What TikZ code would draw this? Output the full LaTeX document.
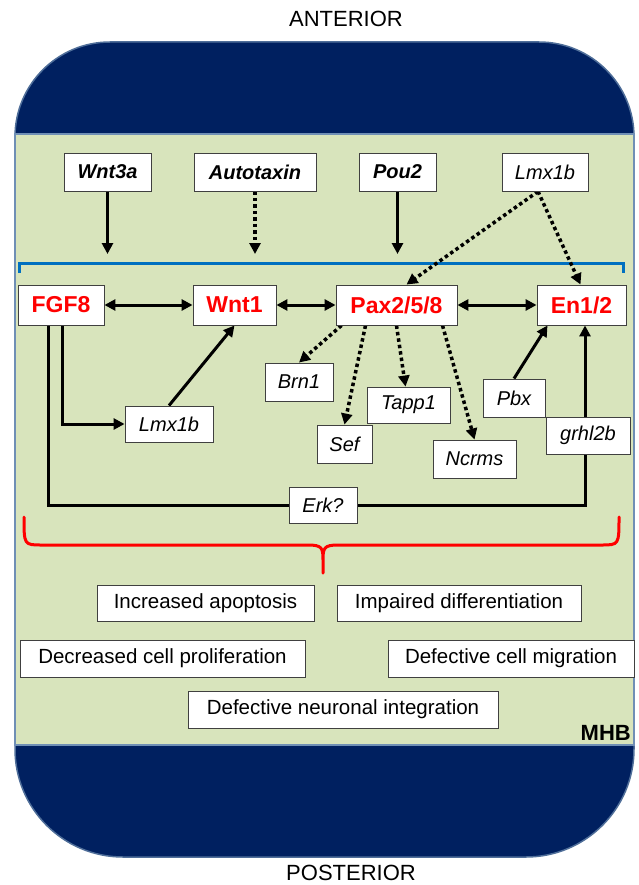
\documentclass[tikz,border=0pt]{standalone}
\usepackage{fontspec}
\setmainfont{Liberation Sans}
\usetikzlibrary{arrows.meta}
\definecolor{navy}{HTML}{002060}
\definecolor{navyedge}{HTML}{4F6E99}
\definecolor{mhbgreen}{HTML}{D8E4BC}
\definecolor{greenedge}{HTML}{6F8FB5}
\definecolor{boxedge}{HTML}{404040}
\definecolor{bracketblue}{HTML}{0070C0}
\definecolor{bracered}{HTML}{FF0000}
\pgfdeclarelayer{bg}
\pgfdeclarelayer{lines}
\pgfsetlayers{bg,lines,main}
\tikzset{
  base/.style={draw=boxedge, line width=0.9pt, fill=white, inner sep=0pt, align=center},
  topb/.style={base, font=\fontsize{20}{24}\selectfont\bfseries\itshape},
  itb/.style={base, font=\fontsize{20}{24}\selectfont\itshape},
  redb/.style={base, text=red, font=\fontsize{23}{27}\selectfont\bfseries},
  effb/.style={base, font=\fontsize{20.5}{24}\selectfont},
  tip/.style={-{Triangle[length=11pt,width=11pt]}},
  arr/.style={line width=3pt, tip},
  darr/.style={line width=3.5pt, dash pattern=on 3.5pt off 3pt, tip},
  dbl/.style={line width=3pt, {Triangle[length=11pt,width=11pt]}-{Triangle[length=11pt,width=11pt]}},
}
\newcommand\nd[7]{\node[#1, minimum width=#5pt, minimum height=#6pt] (#2) at (#3,#4) {#7};}
\begin{document}
\begin{tikzpicture}[x=1pt,y=-1pt]
\useasboundingbox (0,0) rectangle (638,885);
% background
\begin{pgfonlayer}{bg}
  \filldraw[fill=navy, draw=navyedge, line width=1.5pt, rounded corners=95pt] (15,42) rectangle (634,400);
  \filldraw[fill=navy, draw=navyedge, line width=1.5pt, rounded corners=108pt] (15,480) rectangle (634,857);
  \filldraw[fill=mhbgreen, draw=greenedge, line width=1.6pt] (15,134) rectangle (634,745);
\end{pgfonlayer}
\node[font=\fontsize{22}{26}\selectfont] (ant) at (346,19) {ANTERIOR};
\node[font=\fontsize{22}{26}\selectfont] (post) at (351,873) {POSTERIOR};
\node[font=\fontsize{22}{26}\selectfont\bfseries, anchor=base east, inner sep=0pt] (mhb) at (631,740) {MHB};
% top row
\nd{topb}{wnt3a}{107.5}{172}{87}{38}{Wnt3a}
\nd{topb}{atx}{255}{172}{122}{38}{Autotaxin}
\nd{topb}{pou2}{397.5}{172}{77}{38}{Pou2}
\nd{itb}{lmxt}{545}{172}{86}{38}{Lmx1b}
% main row
\nd{redb}{fgf8}{61}{305}{86}{40}{FGF8}
\nd{redb}{wnt1}{234.5}{305}{83}{40}{Wnt1}
\nd{redb}{pax}{396.5}{305}{121}{40}{Pax2/5/8}
\nd{redb}{en}{581.5}{305}{89}{40}{En1/2}
% lower nodes
\nd{itb}{brn1}{299}{382}{68}{38}{Brn1}
\nd{itb}{lmxm}{169}{424}{88}{36}{Lmx1b}
\nd{itb}{tapp1}{408.5}{405}{83}{36}{Tapp1}
\nd{itb}{sef}{344.5}{444}{55}{38}{Sef}
\nd{itb}{ncrms}{474.5}{459}{83}{38}{Ncrms}
\nd{itb}{pbx}{514}{398}{62}{38}{Pbx}
\nd{itb}{grhl}{588}{435.5}{84}{37}{grhl2b}
\nd{itb}{erk}{323}{505}{68}{36}{Erk?}
% effects
\nd{effb}{e1}{205.5}{603}{217}{36}{Increased apoptosis}
\nd{effb}{e2}{459}{603}{244}{36}{Impaired differentiation}
\nd{effb}{e3}{162.5}{658.5}{285}{37}{Decreased cell proliferation}
\nd{effb}{e4}{511}{658.5}{246}{37}{Defective cell migration}
\nd{effb}{e5}{343}{709.5}{310}{37}{Defective neuronal integration}
% coordinates
\coordinate (w3e) at (107.5,254);
\coordinate (atxe) at (255,254);
\coordinate (poue) at (397.5,254);
\coordinate (bl) at (48,505);
\coordinate (br) at (585,505);
\begin{pgfonlayer}{lines}
  % blue bracket
  \draw[bracketblue, line width=3pt] (19,273) -- (19,263) -- (623,263) -- (623,273);
  % red brace
  \draw[bracered, line width=3pt, line cap=round]
    (24,517) .. controls (24,545) and (24,545) .. (42,545) -- (308,545)
    .. controls (322,545) and (323,548) .. (323,560) -- (323,573)
    (323,560) .. controls (323,548) and (324,545) .. (338,545) -- (601,545)
    .. controls (619,545) and (619,545) .. (619,517);
  % inputs
  \draw[arr] (wnt3a.south) -- (w3e);
  \draw[darr] (atx.south) -- (atxe);
  \draw[arr] (pou2.south) -- (poue);
  \draw[darr] ([xshift=-7pt]lmxt.south) -- ([xshift=10pt]pax.north);
  \draw[darr] ([xshift=-7pt]lmxt.south) -- ([xshift=-1pt]en.north);
  % main row
  \draw[dbl] (fgf8.east) -- (wnt1.west);
  \draw[dbl] (wnt1.east) -- (pax.west);
  \draw[dbl] (pax.east) -- (en.west);
  % FGF8 branches
  \draw[arr] ([xshift=1pt]fgf8.south) |- (lmxm.west);
  \draw[arr, line join=miter] ([xshift=-13pt]fgf8.south) -- (bl) -- (br) -- (br |- en.south);
  \draw[arr] (lmxm.north) -- (wnt1.south);
  \draw[arr] (pbx.north) -- ([xshift=-34pt]en.south);
  % Pax targets
  \draw[darr] ([xshift=-55pt]pax.south) -- (brn1.north);
  \draw[darr] ([xshift=-31pt]pax.south) -- (sef.north);
  \draw[darr] (pax.south) -- ([xshift=-3pt]tapp1.north);
  \draw[darr] ([xshift=46pt]pax.south) -- (ncrms.north);
\end{pgfonlayer}
\end{tikzpicture}
\end{document}
